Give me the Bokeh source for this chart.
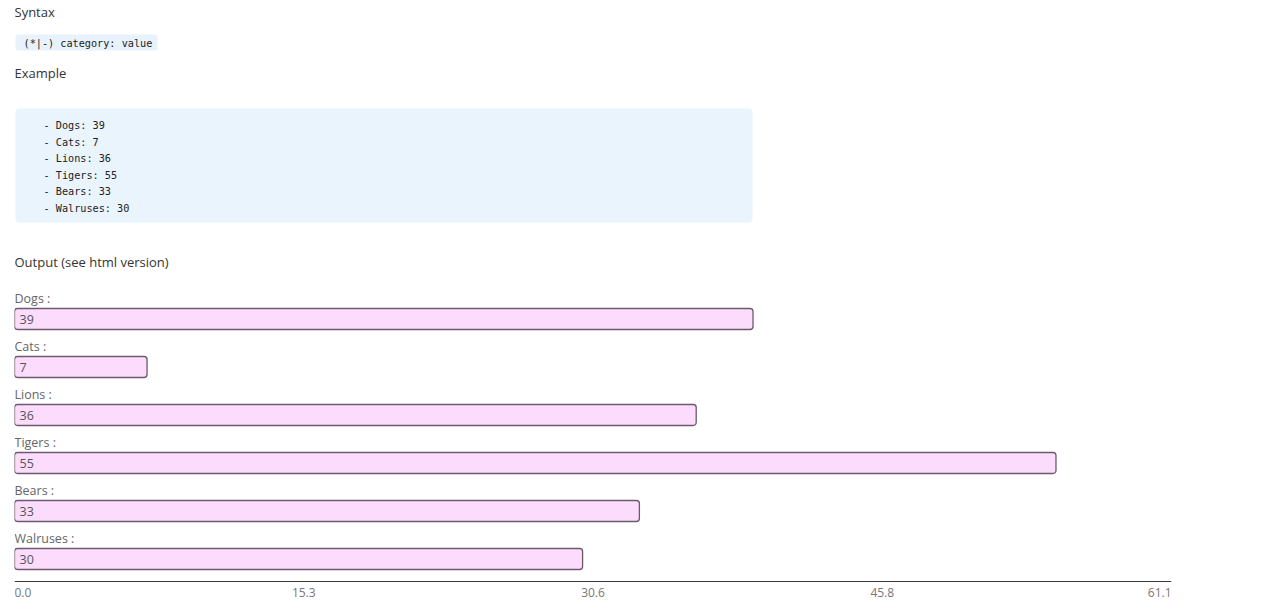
from bokeh.plotting import figure
from bokeh.models import Range1d, Label, BoxAnnotation, ColumnDataSource, Span
from bokeh.core.properties import value
from bokeh.embed import file_html
from bokeh.resources import INLINE

# ---- data ----
categories = ["Dogs", "Cats", "Lions", "Tigers", "Bears", "Walruses"]
values = [39, 7, 36, 55, 33, 30]
axis_max = 61.1
tick_values = [0, 15.275, 30.55, 45.825, 61.1]
tick_labels = ["0.0", "15.3", "30.6", "45.8", "61.1"]

# ---- layout (pixels) ----
W, H = 1272, 607
FRAME_L, FRAME_R = 14, 1171
FRAME_T, FRAME_B = 0, H
AXIS_Y = 581
ROW0_C, ROW_PITCH, BAR_H = 318.5, 48, 21

SANS = "Open Sans"
MONO = "DejaVu Sans Mono"

p = figure(
    width=W, height=H, output_backend="svg", toolbar_location=None,
    x_range=Range1d(0, axis_max),
    y_range=Range1d((FRAME_B - ROW0_C) / ROW_PITCH, -(ROW0_C - FRAME_T) / ROW_PITCH),
    x_axis_location=None, y_axis_location=None,
    min_border_left=FRAME_L,
    min_border_right=W - FRAME_R,
    min_border_top=FRAME_T,
    min_border_bottom=H - FRAME_B,
)
p.outline_line_color = None
p.xgrid.visible = False
p.ygrid.visible = False
p.background_fill_color = "white"
p.border_fill_color = "white"
p.title.visible = False

p.extra_x_ranges = {"px": Range1d(FRAME_L, FRAME_R)}
p.extra_y_ranges = {"px": Range1d(FRAME_B, FRAME_T)}


def lab(x, y, text, size="13px", font=SANS, color="#333333", align="left"):
    p.add_layout(Label(x=x, y=y, text=text, x_range_name="px", y_range_name="px",
                       text_font=font, text_font_size=size, text_color=color,
                       text_align=align, text_baseline="middle"))


# header texts
lab(14, 11, "Syntax")
p.add_layout(BoxAnnotation(left=15, right=157, top=34, bottom=50,
                           x_range_name="px", y_range_name="px",
                           fill_color="#e8f2fc", fill_alpha=1, line_color=None,
                           border_radius=3))
lab(23, 42.5, "(*|-) category: value", size="10.2px", font=MONO, color="#222222")
lab(14, 72, "Example")
p.add_layout(BoxAnnotation(left=15, right=752, top=108, bottom=222,
                           x_range_name="px", y_range_name="px",
                           fill_color="#eaf4fd", fill_alpha=1, line_color=None,
                           border_radius=4))
for i, (c, v) in enumerate(zip(categories, values)):
    lab(43, 125 + 16.6 * i, f"- {c}: {v}", size="10.2px", font=MONO, color="#222222")
lab(14, 261, "Output (see html version)")

# bars
src = ColumnDataSource(dict(
    y=list(range(len(categories))),
    v=values,
    cat=[c + " :" for c in categories],
    val=[str(v) for v in values],
))
p.hbar(y="y", left=0, right="v", height=BAR_H / ROW_PITCH, source=src,
       fill_color="#fcdcfc", line_color="#6b5a6b", line_width=1.3,
       border_radius=3)
p.text(x=0, y="y", text="cat", source=src, y_offset=-21,
       text_font=value(SANS), text_font_size="12.5px", text_color="#666666",
       text_baseline="middle", text_align="left")
p.text(x=0, y="y", text="val", source=src, x_offset=5,
       text_font=value(SANS), text_font_size="12.5px", text_color="#555555",
       text_baseline="middle", text_align="left")

# x axis line and tick labels
p.add_layout(Span(location=AXIS_Y, dimension="width", y_range_name="px",
                  line_color="#3a3a3a", line_width=1))
tick_src = ColumnDataSource(dict(
    x=tick_values,
    t=tick_labels,
    align=["left"] + ["center"] * (len(tick_values) - 2) + ["right"],
))
p.text(x="x", y=592, text="t", source=tick_src, y_range_name="px",
       text_align="align", text_baseline="middle",
       text_font=value(SANS), text_font_size="12px", text_color="#777777")

open("out.html", "w").write(file_html(p, INLINE))
